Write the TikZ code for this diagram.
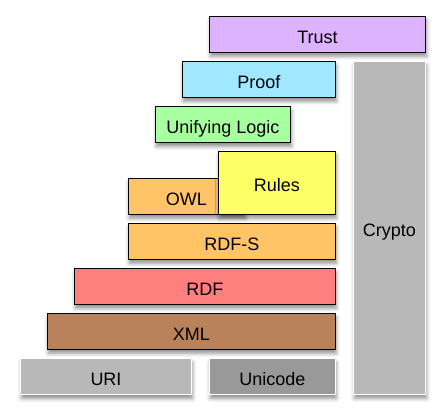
\documentclass[tikz,border=0pt]{standalone}
\usepackage{fontspec}
\setmainfont{Liberation Sans}
\usetikzlibrary{shadows.blur}

\definecolor{trustcol}{RGB}{221,179,255}
\definecolor{proofcol}{RGB}{160,232,255}
\definecolor{logiccol}{RGB}{168,255,160}
\definecolor{rulescol}{RGB}{255,255,102}
\definecolor{owlcol}{RGB}{255,196,102}
\definecolor{rdfcol}{RGB}{255,127,127}
\definecolor{xmlcol}{RGB}{185,130,90}
\definecolor{uricol}{RGB}{184,184,184}
\definecolor{unicodecol}{RGB}{153,153,153}

\begin{document}
\begin{tikzpicture}[
            x=1pt, y=1pt,
            layer/.style={
                rectangle,
                draw=black,
                line width=0.9pt,
                minimum height=36pt,
                inner sep=0pt,
                text height=19pt,
                text depth=1pt,
                text centered,
                font=\fontsize{18}{20}\selectfont,
                blur shadow={shadow xshift=1pt, shadow yshift=-4pt,
                    shadow blur radius=4pt, shadow opacity=45}
            },
            base/.style={
                layer,
                draw=white,
                line width=1.1pt
            }
        ]
        \useasboundingbox (0,0) rectangle (445,418);

        % nodes
        \node[base, fill=uricol, minimum width=72pt, minimum height=333pt] (crypto) at (389.5,190.2) {Crypto};
        \node[layer, fill=trustcol, minimum width=216pt] (trust) at (317.5,383.7) {Trust};
        \node[layer, fill=proofcol, minimum width=153pt] (proof) at (258.8,338.7) {Proof};
        \node[layer, fill=logiccol, minimum width=135pt] (logic) at (223,293.5) {Unifying Logic};
        \node[layer, fill=owlcol, minimum width=116pt, text width=116pt, align=center] (owl) at (186.3,221.8) {OWL};
        \node[layer, fill=rulescol, minimum width=117pt, minimum height=63pt] (rules) at (276.8,235.3) {Rules};
        \node[layer, fill=owlcol, minimum width=207pt] (rdfs) at (231.8,176.8) {RDF-S};
        \node[layer, fill=rdfcol, minimum width=261pt] (rdf) at (204.8,131.7) {RDF};
        \node[layer, fill=xmlcol, minimum width=288pt] (xml) at (191.3,86.7) {XML};
        \node[base, fill=uricol, minimum width=171pt] (uri) at (106,41.5) {URI};
        \node[base, fill=unicodecol, minimum width=126pt] (unicode) at (272.3,41.5) {Unicode};
    \end{tikzpicture}
\end{document}
